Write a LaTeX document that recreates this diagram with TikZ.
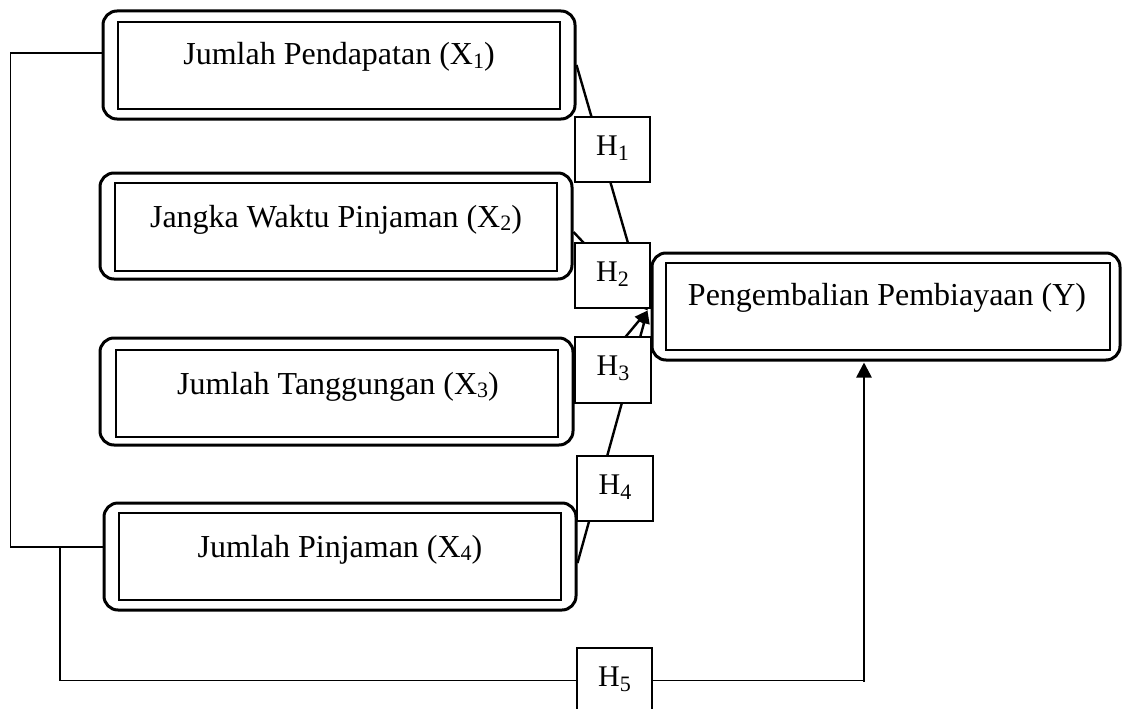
\documentclass[tikz,border=0pt]{standalone}
\usepackage{fontspec}
\setmainfont{Liberation Serif}
\usetikzlibrary{arrows.meta}
\newcommand{\bigfont}{\fontsize{32}{38}\selectfont}
\newcommand{\hfont}{\fontsize{30}{36}\selectfont}
\newcommand{\sbm}[1]{\raisebox{-3pt}{\fontsize{22}{24}\selectfont #1}}
\newcommand{\sbh}[1]{\raisebox{-5pt}{\fontsize{22}{24}\selectfont #1}}
\begin{document}
\begin{tikzpicture}[x=1pt,y=-1pt,
  outerbox/.style={draw, line width=3pt, rounded corners=14pt, inner sep=0pt},
  innerbox/.style={draw, line width=1.2pt, inner sep=0pt},
  hbox/.style={draw, line width=1.4pt, fill=white, inner sep=0pt, minimum width=75pt, minimum height=65pt, font=\hfont, text height=11pt, text depth=0pt},
  lbl/.style={font=\bigfont, inner sep=0pt, anchor=base},
  conn/.style={line width=1.3pt},
  diag/.style={line width=2.4pt, -{Triangle[length=13pt,width=11pt]}}]
\useasboundingbox (0,0) rectangle (1124,709);
% X boxes
\node[outerbox, minimum width=472pt, minimum height=108pt] (x1) at (339,65) {};
\node[innerbox, minimum width=442pt, minimum height=87pt] (x1i) at (339,65.5) {};
\node[lbl] (t1) at (339,65) {Jumlah Pendapatan (X\sbm{1})};
\node[outerbox, minimum width=472pt, minimum height=106pt] (x2) at (336,226) {};
\node[innerbox, minimum width=442pt, minimum height=88pt] (x2i) at (336,227) {};
\node[lbl] (t2) at (336,227) {Jangka Waktu Pinjaman (X\sbm{2})};
\node[outerbox, minimum width=473pt, minimum height=107pt] (x3) at (336.5,391.5) {};
\node[innerbox, minimum width=442pt, minimum height=87pt] (x3i) at (337,393.5) {};
\node[lbl] (t3) at (338,394) {Jumlah Tanggungan (X\sbm{3})};
\node[outerbox, minimum width=472pt, minimum height=107pt] (x4) at (340,556.5) {};
\node[innerbox, minimum width=442pt, minimum height=87pt] (x4i) at (340,556.5) {};
\node[lbl] (t4) at (340,557) {Jumlah Pinjaman (X\sbm{4})};
% Y box
\node[outerbox, minimum width=468pt, minimum height=107pt] (y) at (886,306.5) {};
\node[innerbox, minimum width=444pt, minimum height=87pt] (yi) at (888,306.5) {};
\node[lbl] (ty) at (887,305) {Pengembalian Pembiayaan (Y)};
% arrows to Y
\coordinate (tip) at ([xshift=-3pt,yshift=-4pt]y.west);
\draw[diag] (x1.east) -- (tip);
\draw[diag] ([yshift=-6pt]x2.east) -- (tip);
\draw[diag] ([yshift=-6.5pt]x3.east) -- (tip);
\draw[diag] ([yshift=-6.5pt]x4.east) -- (tip);
% H boxes
\node[hbox] (h1) at (612.5,149.5) {H\sbh{1}};
\node[hbox] (h2) at (612.5,275.5) {H\sbh{2}};
\node[hbox, minimum width=76pt, minimum height=66pt] (h3) at (613,370) {H\sbh{3}};
\node[hbox, minimum width=76pt] (h4) at (615,488.5) {H\sbh{4}};
\node[hbox] (h5) at (614.5,680.5) {H\sbh{5}};
% left connector
\draw[conn] ([yshift=12pt]x1.west) -- ++(-91,0) |- ([yshift=9.5pt]x4.west);
\coordinate (j) at (60,547);
\draw[conn] (j) |- (h5.west);
\coordinate (c5) at ([xshift=-22pt]y.south |- h5.east);
\draw[conn] (h5.east) -- (c5);
\draw[line width=2.6pt, -{Triangle[length=15pt,width=15pt]}] ([yshift=-1pt]c5) -- ([xshift=-22pt,yshift=-1pt]y.south);
\end{tikzpicture}
\end{document}
